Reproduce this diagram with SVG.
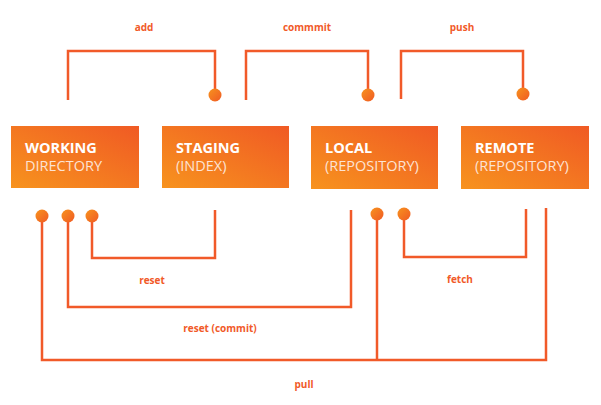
<svg xmlns="http://www.w3.org/2000/svg" width="601" height="405" viewBox="0 0 601 405">
<defs>
<linearGradient id="boxg" x1="0" y1="1" x2="1" y2="0">
<stop offset="0" stop-color="#f7931e"/>
<stop offset="1" stop-color="#f05a24"/>
</linearGradient>
<linearGradient id="dotg" x1="0" y1="0" x2="1" y2="1">
<stop offset="0" stop-color="#f7931e"/>
<stop offset="1" stop-color="#f05a24"/>
</linearGradient>
</defs>
<style>
.box{fill:url(#boxg)}
.t1{font-family:"Open Sans","Liberation Sans",sans-serif;font-size:14.5px;font-weight:bold;fill:#fff}
.t2{font-family:"Open Sans","Liberation Sans",sans-serif;font-size:14.5px;fill:#fde3d3}
.lbl{font-family:"Open Sans","Liberation Sans",sans-serif;font-size:10px;font-weight:bold;fill:#f15a29;text-anchor:middle}
.ln{fill:none;stroke:#f15a29;stroke-width:2.5}
.dot{fill:url(#dotg)}
</style>
<rect width="601" height="405" fill="#fff"/>
<g id="working">
<rect class="box" x="11" y="126" width="128" height="62"/>
<text class="t1" x="25" y="153">WORKING</text>
<text class="t2" x="25" y="171">DIRECTORY</text>
</g>
<g id="staging">
<rect class="box" x="162" y="126" width="127" height="62"/>
<text class="t1" x="176" y="153">STAGING</text>
<text class="t2" x="176" y="171">(INDEX)</text>
</g>
<g id="local">
<rect class="box" x="311" y="126" width="127" height="63"/>
<text class="t1" x="325" y="153">LOCAL</text>
<text class="t2" x="325" y="171">(REPOSITORY)</text>
</g>
<g id="remote">
<rect class="box" x="461" y="126" width="128" height="63"/>
<text class="t1" x="475" y="153">REMOTE</text>
<text class="t2" x="475" y="171">(REPOSITORY)</text>
</g>
<g id="connectors">
<polyline class="ln" points="68,100 68,51 215,51 215,95"/>
<circle class="dot" cx="215" cy="95" r="6.5"/>
<text class="lbl" x="144" y="31">add</text>
<polyline class="ln" points="246,100 246,51 368,51 368,95"/>
<circle class="dot" cx="368" cy="95" r="6.5"/>
<text class="lbl" x="307" y="31">commmit</text>
<polyline class="ln" points="401,99 401,51 523,51 523,94"/>
<circle class="dot" cx="523" cy="94" r="6.5"/>
<text class="lbl" x="462" y="31">push</text>
<polyline class="ln" points="92,216 92,258 215,258 215,210"/>
<circle class="dot" cx="92" cy="216" r="6.5"/>
<text class="lbl" x="152" y="284">reset</text>
<polyline class="ln" points="68,216 68,307 351,307 351,210"/>
<circle class="dot" cx="68" cy="216" r="6.5"/>
<text class="lbl" x="220" y="332">reset (commit)</text>
<polyline class="ln" points="42,216 42,360 546,360 546,208"/>
<line class="ln" x1="377" y1="214" x2="377" y2="360"/>
<circle class="dot" cx="42" cy="216" r="6.5"/>
<circle class="dot" cx="377" cy="214" r="6.5"/>
<text class="lbl" x="304" y="388">pull</text>
<polyline class="ln" points="404,214 404,257 526,257 526,209"/>
<circle class="dot" cx="404" cy="214" r="6.5"/>
<text class="lbl" x="460" y="283">fetch</text>
</g>
</svg>
